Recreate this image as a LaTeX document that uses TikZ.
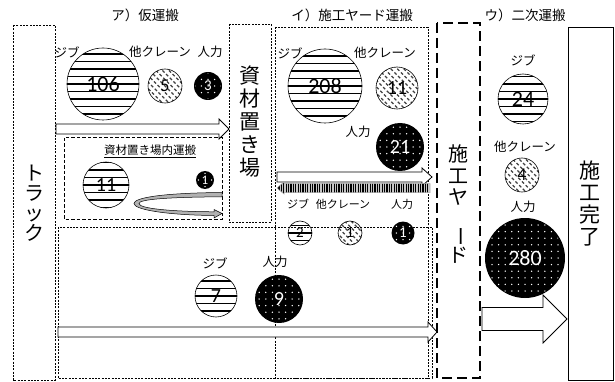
\documentclass[tikz,border=0pt]{standalone}
\usepackage{fontspec}
\setmainfont{Noto Sans CJK JP}
\newfontfamily\numf{Carlito}
\tikzset{
  fdash/.style={line width=0.6pt, dash pattern=on 2pt off 1.3pt},
  tdash/.style={line width=1pt, dash pattern=on 3.5pt off 2pt},
  ydash/.style={line width=1.6pt, dash pattern=on 10pt off 5pt},
  lab/.style={font=\fontsize{12.5}{13}\selectfont, inner sep=0pt},
  slab/.style={font=\fontsize{11}{12}\selectfont, inner sep=0pt},
  ttl/.style={font=\fontsize{13.5}{14}\selectfont, inner sep=0pt},
  vtxt/.style={align=center, inner sep=0pt},
  warrow/.style={fill=white, draw=black, line width=0.8pt, line join=miter}
}
\newcommand{\jibc}[5]{%
  \begin{scope}
    \clip (#2,#3) circle[radius=#4pt];
    \foreach \k in {-6,...,6}
      \draw[line width=1.6pt] (#2-50,#3+\k*7.5) -- (#2+50,#3+\k*7.5);
  \end{scope}
  \draw[line width=0.6pt] (#2,#3) circle[radius=#4pt];
  \node[inner sep=0pt] (#1) at (#2,#3) {#5};
}
\newcommand{\othc}[5]{%
  \begin{scope}
    \clip (#2,#3) circle[radius=#4pt];
    \foreach \k in {-10,...,10}
      \draw[black!75, line width=1.1pt, dash pattern=on 3pt off 2.2pt] (#2+\k*6.5-45,#3-45) -- ++(90,90);
  \end{scope}
  \draw[line width=0.6pt] (#2,#3) circle[radius=#4pt];
  \node[inner sep=0pt] (#1) at (#2,#3) {#5};
}
\newcommand{\humc}[5]{%
  \fill[black] (#2,#3) circle[radius=#4pt];
  \begin{scope}
    \clip (#2,#3) circle[radius=#4pt-1pt];
    \foreach \i in {-7,...,7}
      \foreach \j in {-7,...,7}
        \fill[white] (#2+\i*6.6,#3+\j*6.6) circle[radius=0.75pt];
  \end{scope}
  \node[inner sep=0pt, text=white] (#1) at (#2,#3) {#5};
}
% x1, xtip, y, half body, half head, head length
\newcommand{\warr}[6]{%
  \draw[warrow] (#1,#3-#4) -- (#2-#6,#3-#4) -- (#2-#6,#3-#5) -- (#2,#3)
    -- (#2-#6,#3+#5) -- (#2-#6,#3+#4) -- (#1,#3+#4) -- cycle;
}
\begin{document}
\begin{tikzpicture}[x=1pt,y=-1pt]
\useasboundingbox (0,0) rectangle (615,382);

% ---- boxes
\draw[fdash] (13,25) rectangle (55,380);
\draw[fdash] (229,24) rectangle (271,222);
\draw[fdash] (275,27) rectangle (428,378);
\draw[fdash] (58,227) rectangle (432,378);
\draw[tdash] (64,138) rectangle (222,219);
\draw[ydash] (437,23) rectangle (480,378);
\draw[line width=0.9pt] (568,27) rectangle (613,380);

% ---- vertical texts
\node[vtxt, font=\fontsize{20}{20}\selectfont] (truck) at (34,203) {ト\\ラ\\ッ\\ク};
\node[vtxt, font=\fontsize{21}{23}\selectfont] (yard1) at (250,122) {資\\材\\置\\き\\場};
\node[vtxt, font=\fontsize{20}{21.5}\selectfont] (yard2) at (458,204) {施\\工\\ヤ\\\rotatebox{-90}{ー}\\ド};
\node[vtxt, font=\fontsize{21}{22}\selectfont] (done) at (590,204) {施\\工\\完\\了};

% ---- titles
\node[ttl] (ta) at (145,15) {ア）仮運搬};
\node[ttl] (tb) at (352,15) {イ）施工ヤード運搬};
\node[ttl] (tc) at (525,15) {ウ）二次運搬};

% ---- A region
\node[lab] (a1) at (67,52) {ジブ};
\node[lab] (a2) at (160,52) {他クレーン};
\node[lab] (a3) at (210,52) {人力};
\jibc{c106}{103}{84}{36}{\numf\fontsize{22}{22}\selectfont 106}
\othc{c5}{165}{86}{17}{\numf\fontsize{18}{18}\selectfont 5}
\humc{c3}{208}{86}{14}{\numf\fontsize{15}{15}\selectfont 3}
\warr{56}{229}{129}{5}{10}{10}

\node[lab, font=\fontsize{11.5}{12}\selectfont] (inner) at (150,151) {\underline{資材置き場内運搬}};
\jibc{c11a}{106}{185}{23}{\numf\fontsize{20}{20}\selectfont 11}
\humc{c1a}{205}{180}{9}{\numf\fontsize{13}{13}\selectfont 1}
\draw[fill=gray!60, draw=black, line width=0.5pt]
  (222,192.5) .. controls (160,193) and (134,198) .. (134,203.5)
  .. controls (134,209.5) and (165,215) .. (214,215.5)
  -- (214,218) -- (222,213.5) -- (214,209.5) -- (214,211.8)
  .. controls (170,211.5) and (139,208.5) .. (139,203.5)
  .. controls (139,199.5) and (165,197.2) .. (222,196.8) -- cycle;

% ---- B region
\node[lab] (b1) at (290,53) {ジブ};
\node[lab] (b2) at (385,53) {他クレーン};
\node[lab] (b3) at (358,132) {人力};
\jibc{c208}{325}{86}{37}{\numf\fontsize{22}{22}\selectfont 208}
\othc{c11b}{397}{88}{21}{\numf\fontsize{20}{20}\selectfont 11}
\humc{c21}{400}{147}{24}{\numf\fontsize{20}{20}\selectfont 21}
\warr{277}{432}{177}{5}{9}{10}
\begin{scope}
  \clip (430,183.5) -- (284,183.5) -- (284,182) -- (277,188) -- (284,194) -- (284,192.5) -- (430,192.5) -- cycle;
  \fill[gray!45] (270,180) rectangle (435,196);
  \foreach \k in {0,...,62} \draw[line width=1.1pt] (279+\k*2.4,180) -- ++(0,16);
\end{scope}
\draw[gray!70, line width=0.5pt] (430,183.5) -- (284,183.5) -- (284,182) -- (277,188) -- (284,194) -- (284,192.5) -- (430,192.5) -- cycle;

\node[slab] (r1) at (298,204) {ジブ};
\node[slab] (r2) at (343,204) {他クレーン};
\node[slab] (r3) at (402,204) {人力};
\jibc{c2}{300}{233}{12}{\numf\fontsize{15}{15}\selectfont 2}
\othc{c1b}{350}{233}{12}{\numf\fontsize{15}{15}\selectfont 1}
\humc{c1c}{403}{233}{11.5}{\numf\fontsize{15}{15}\selectfont 1}

% ---- bottom region
\node[lab] (d1) at (215,263) {ジブ};
\node[lab] (d2) at (275,262) {人力};
\jibc{c7}{216}{296}{21}{\numf\fontsize{20}{20}\selectfont 7}
\humc{c9}{279}{299}{24}{\numf\fontsize{20}{20}\selectfont 9}
\warr{58}{437}{332}{5}{10}{9}

% ---- C region
\node[lab] (e1) at (523,60) {ジブ};
\jibc{c24}{523}{99}{25}{\numf\fontsize{22}{22}\selectfont 24}
\node[lab] (e2) at (525,147) {他クレーン};
\othc{c4}{522}{175}{17}{\numf\fontsize{18}{18}\selectfont 4}
\node[lab] (e3) at (523,207) {人力};
\humc{c280}{525}{258}{40}{\numf\fontsize{22}{22}\selectfont 280}
\warr{482}{567}{319}{11.5}{24}{24}
\end{tikzpicture}
\end{document}
